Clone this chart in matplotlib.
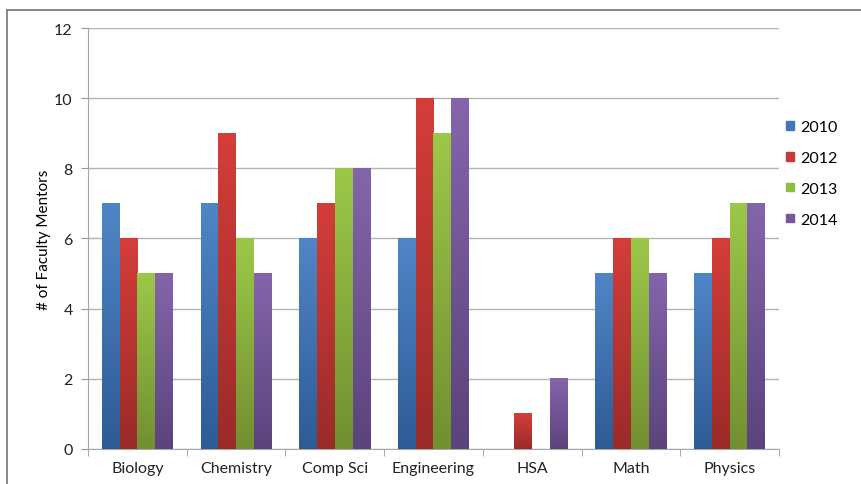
import numpy as np
import matplotlib.pyplot as plt
from matplotlib.colors import LinearSegmentedColormap
from matplotlib.lines import Line2D

# === Data ===
departments = ['Biology', 'Chemistry', 'Comp Sci', 'Engineering', 'HSA', 'Math', 'Physics']
years = ['2010', '2012', '2013', '2014']
mentors_2010 = [7, 7, 6, 6, 0, 5, 5]
mentors_2012 = [6, 9, 7, 10, 1, 6, 6]
mentors_2013 = [5, 6, 8, 9, 0, 6, 7]
mentors_2014 = [5, 5, 8, 10, 2, 5, 7]

# (top colour, bottom colour) for Excel-style gradient fill
shades = [('#4f86c6', '#2d5b96'),
          ('#d43d3a', '#9a2b29'),
          ('#9bc849', '#728f31'),
          ('#8465ab', '#5b437c')]
legend_cols = ['#3f77bd', '#c83a37', '#8fbc44', '#76579d']

plt.rcParams['font.family'] = ['Lato', 'DejaVu Sans']

fig = plt.figure(figsize=(8.62, 4.85), dpi=100)
ax = fig.add_axes([0.1021, 0.0722, 0.8016, 0.868])

x = np.arange(len(departments))
w = 0.18
series = [mentors_2010, mentors_2012, mentors_2013, mentors_2014]

grad = np.linspace(1, 0, 256).reshape(-1, 1)
for i, vals in enumerate(series):
    offs = (i - 1.5) * w
    bars = ax.bar(x + offs, vals, w, color='none', lw=0, label=years[i], zorder=2)
    cmap = LinearSegmentedColormap.from_list('g%d' % i, [shades[i][1], shades[i][0]])
    for b in bars:
        h = b.get_height()
        if h <= 0:
            continue
        x0 = b.get_x()
        ax.imshow(grad, cmap=cmap, aspect='auto', origin='upper',
                  extent=[x0, x0 + b.get_width(), 0, h], zorder=3,
                  interpolation='bilinear')

ax.set_xlim(-0.5, len(departments) - 0.5)
ax.set_ylim(0, 12)
ax.set_yticks(range(0, 13, 2))
ax.set_xticks(x)
ax.set_xticklabels(departments)
ax.set_xticks(np.arange(-0.5, len(departments), 1), minor=True)
ax.tick_params(axis='x', which='major', length=0, pad=9, labelsize=11.5, colors='#222222')
ax.tick_params(axis='x', which='minor', length=5, color='#999999')
ax.tick_params(axis='y', length=5, pad=6, labelsize=11.5, colors='#222222')
ax.tick_params(axis='y', color='#999999')
ax.set_ylabel('# of Faculty Mentors', fontsize=11, labelpad=2)

ax.grid(axis='y', color='#b3b3b3', lw=1, zorder=0)
for s in ['top', 'right']:
    ax.spines[s].set_visible(False)
for s in ['left', 'bottom']:
    ax.spines[s].set_color('#a6a6a6')

handles = [plt.Rectangle((0, 0), 1, 1, color=c) for c in legend_cols]
ax.legend(handles, years, loc='upper left', bbox_to_anchor=(0.99, 0.815),
          frameon=False, fontsize=11.5, handlelength=0.45, handleheight=0.45,
          handletextpad=0.4, labelspacing=1.05)

# outer frame (top and left edges)
fig.add_artist(Line2D([7 / 862, 1.0], [1 - 11 / 485, 1 - 11 / 485],
                      transform=fig.transFigure, color='#808080', lw=1.3))
fig.add_artist(Line2D([7 / 862, 7 / 862], [0, 1 - 11 / 485],
                      transform=fig.transFigure, color='#808080', lw=1.3))

plt.savefig('out.png', dpi=100)
